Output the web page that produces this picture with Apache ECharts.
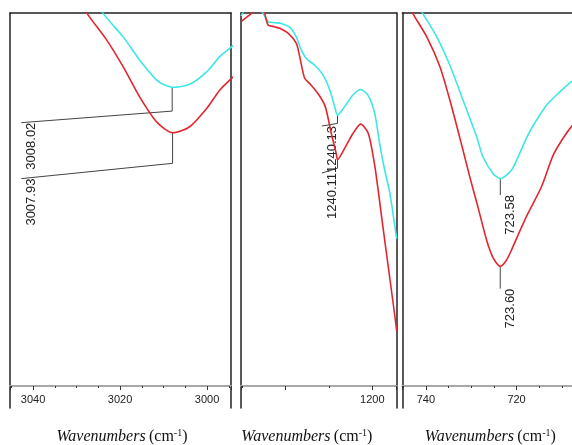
<!DOCTYPE html>
<html>
<head>
<meta charset="utf-8">
<script src="https://cdn.jsdelivr.net/npm/echarts@6/dist/echarts.min.js"></script>
<style>
  html, body { margin: 0; padding: 0; background: #fff; }
  #chart { width: 572px; height: 445px; }
</style>
</head>
<body>
<div id="chart"></div>
<script>
// spectra: [wavenumber, transmittance-ish]
const p1Cyan = [[3025.5,103.5],[3023.9,99.9],[3019.3,93.6],[3015.5,87.4],[3011.6,82.0],[3010.1,80.9],[3008.0,80.1],[3004.0,80.9],[3000.1,84.2],[2997.1,88.3],[2994.8,90.5],[2994.0,91.3]];
const p1Red = [[3029.5,104],[3027.6,99.9],[3023.1,92.8],[3019.3,85.6],[3015.5,77.5],[3011.6,70.8],[3007.9,67.9],[3004.0,69.5],[3000.1,74.4],[2997.1,79.3],[2994.8,82.0],[2994.0,82.9]];

const p2Cyan = [[1351.6,99.2],[1345,101.5],[1335,102.5],[1326.5,100],[1320.4,97.7],[1312.7,97.4],[1305.1,97.2],[1295.4,96.2],[1287.8,93.6],[1282.0,90.1],[1276.2,87.8],[1266.5,86.0],[1256.9,83.4],[1249.2,79.4],[1243.4,74.9],[1240.13,72.6],[1231.9,74.9],[1222.3,78.0],[1213.4,79.5],[1205.0,78.0],[1197.2,73.1],[1191.5,65.0],[1185.7,57.9],[1179.6,51.6],[1173.8,42.6],[1171.8,39.5]];
const p2Red = [[1351.6,97.7],[1339.3,99.9],[1332,101.2],[1325,100.3],[1320.4,96.8],[1312.7,96.3],[1306.9,95.9],[1297.3,94.6],[1287.8,91.9],[1283.8,88.3],[1278.1,82.5],[1272.3,81.1],[1262.7,78.4],[1254.3,74.9],[1247.3,67.7],[1241.6,62.3],[1240.11,60.7],[1231.9,63.7],[1222.3,67.7],[1213.4,70.2],[1204.6,67.7],[1196.9,58.7],[1189.2,45.3],[1181.5,31.9],[1173.8,18.5],[1171.8,14.7]];

const p3Cyan = [[742.5,103.5],[740.6,99.7],[737.6,93.6],[734.7,86.0],[731.8,76.6],[728.8,66.8],[727.4,61.4],[725.2,57.0],[723.58,55.6],[721.1,57.9],[719.3,62.4],[717.8,66.5],[716.3,69.9],[713.4,75.3],[710.4,78.9],[707.9,81.6],[705.5,83.4]];
const p3Red = [[744.5,104],[742.8,99.7],[739.8,93.6],[736.9,85.6],[734.7,76.6],[732.1,64.6],[730.3,56.0],[728.5,47.9],[726.6,39.1],[725.1,34.2],[723.60,32.1],[722.35,33.5],[721.1,36.5],[719.26,41.6],[717.43,46.4],[714.48,53.5],[711.92,61.9],[709.71,66.5],[707.79,69.7],[705.5,72.5]];

// peak pickers: leader line points, last one carries the label
const peakNames = [['3008.02', '3007.93'], ['1240.13', '1240.11'], ['723.58', '723.60']];
const p1Leaders = [
  [[3008.02,80.1],[3008.02,73.7],[3042.7,70.6]],
  [[3007.93,67.9],[3007.93,59.7],[3042.7,55.6]]
];
const p2Leaders = [
  [[1240.13,72.6],[1240.13,70.4],[1258.1,69.7]],
  [[1240.11,60.7],[1240.11,58.4],[1258.1,57.1]]
];
const p3Leaders = [
  [[723.58,55.6],[723.58,51.2]],
  [[723.60,32.1],[723.60,26.1]]
];

// tick labels shown on each panel
const p1Ticks = [3040, 3020, 3000];
const p2Ticks = [1200];
const p3Ticks = [740, 720];

const panels = [
  { left: 10, width: 221, min: 2994.5, max: 3045.3, step: 20, split: 3, minor: 4, ticks: p1Ticks, pad: [0, 0, 0, 3],
    cyan: p1Cyan, red: p1Red, leaders: p1Leaders },
  { left: 241, width: 155.7, min: 1171.8, max: 1351.6, step: 100, split: 2, minor: 2, ticks: p2Ticks, pad: [0, 24, 0, 0],
    cyan: p2Cyan, red: p2Red, leaders: p2Leaders },
  { left: 402.3, width: 180, min: 705.5, max: 745.2, step: 20, split: 2, minor: 4, ticks: p3Ticks, pad: [0, 4, 0, 0],
    cyan: p3Cyan, red: p3Red, leaders: p3Leaders }
];

const CYAN = '#3fe6e6';
const RED = '#e2262e';
const FRAME = '#222';

const chart = echarts.init(document.getElementById('chart'));

const grid = [], xAxis = [], yAxis = [], series = [];
const hidden = { axisTick: { show: false }, axisLabel: { show: false }, splitLine: { show: false } };

panels.forEach((p, i) => {
  // data box ends on the x axis; the frame box runs a bit lower, like the cropped original
  grid.push({ left: p.left, top: 13, width: p.width, height: 373, containLabel: false, outerBoundsMode: 'none' });
  grid.push({ left: p.left, top: 13, width: p.width, height: 395, containLabel: false, outerBoundsMode: 'none' });

  xAxis.push({
    gridIndex: 2 * i, type: 'value', inverse: true,
    min: p.min, max: p.max,
    splitNumber: p.split, minInterval: p.step, maxInterval: p.step,
    axisLine: { onZero: false, lineStyle: { color: '#a8a8a8', width: 2 } },
    axisTick: { length: 4, lineStyle: { color: '#333' } },
    minorTick: { show: true, splitNumber: p.minor, length: 2, lineStyle: { color: '#333' } },
    splitLine: { show: false },
    minorSplitLine: { show: false },
    axisLabel: {
      color: '#222', fontSize: 11, fontFamily: 'Liberation Sans, Arial', margin: 8,
      formatter: v => (p.ticks.includes(v) ? String(v) : '')
    },
    name: '{i|Wavenumbers} {r|(cm}{s|-1}{r|)}',
    nameLocation: 'middle',
    nameGap: 42,
    nameTextStyle: {
      padding: p.pad,
      rich: {
        i: { fontFamily: 'Liberation Serif', fontStyle: 'italic', fontSize: 16, color: '#111', lineHeight: 18 },
        r: { fontFamily: 'Liberation Serif', fontSize: 16, color: '#111', lineHeight: 18 },
        s: { fontFamily: 'Liberation Serif', fontSize: 10, color: '#111', verticalAlign: 'top', lineHeight: 18 }
      }
    }
  });
  // top frame line
  xAxis.push({
    gridIndex: 2 * i + 1, type: 'value', position: 'top', inverse: true,
    min: p.min, max: p.max,
    axisLine: { onZero: false, lineStyle: { color: FRAME, width: 1.5 } },
    ...hidden
  });

  yAxis.push({ gridIndex: 2 * i, type: 'value', min: 0, max: 100, show: false });
  ['left', 'right'].forEach(pos => {
    yAxis.push({
      gridIndex: 2 * i + 1, type: 'value', position: pos, min: 0, max: 1,
      axisLine: { show: true, onZero: false, lineStyle: { color: FRAME, width: 1.5 } },
      ...hidden
    });
  });

  const base = { xAxisIndex: 2 * i, yAxisIndex: 3 * i, silent: true };

  p.leaders.forEach((pts, k) => {
    const data = pts.map((pt, j) => j === pts.length - 1
      ? { value: pt, label: { show: true, formatter: peakNames[i][k] } }
      : { value: pt });
    series.push({
      ...base, type: 'line', data,
      symbol: 'circle', symbolSize: 1, showSymbol: true,
      itemStyle: { color: 'rgba(0,0,0,0)' },
      lineStyle: { color: '#444', width: 1 },
      label: {
        show: false, position: 'right', distance: 3, rotate: 90,
        align: 'right', verticalAlign: 'top',
        color: '#222', fontSize: 13, fontFamily: 'Liberation Sans, Arial'
      },
      z: 3
    });
  });

  series.push({
    ...base, type: 'line', data: p.cyan, showSymbol: false, smooth: 0.25,
    lineStyle: { color: CYAN, width: 1.6 }, z: 4
  });
  series.push({
    ...base, type: 'line', data: p.red, showSymbol: false, smooth: 0.25,
    lineStyle: { color: RED, width: 1.6 }, z: 4
  });
});

chart.setOption({
  animation: false,
  backgroundColor: '#fff',
  grid, xAxis, yAxis, series
});
</script>
</body>
</html>
